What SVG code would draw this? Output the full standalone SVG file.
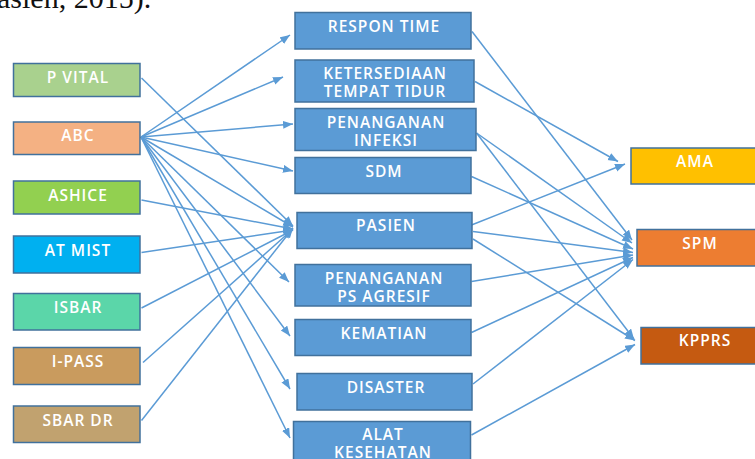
<svg xmlns="http://www.w3.org/2000/svg" width="755" height="459" viewBox="0 0 755 459">
<style>
.box{stroke:#41719c;stroke-width:1.5}
.mid{fill:#5b9bd5}
.lbl{font-family:"Open Sans","Liberation Sans",sans-serif;font-size:15.5px;font-weight:600;fill:#ffffff;text-anchor:middle;letter-spacing:1px}
.con{stroke:#5b9bd5;stroke-width:1.5;fill:none;marker-end:url(#arr)}
.cap{font-family:"Liberation Serif",serif;font-size:30px;fill:#111111}
</style>
<defs>
<marker id="arr" markerUnits="userSpaceOnUse" markerWidth="11" markerHeight="9" refX="10" refY="4" orient="auto">
<path d="M0,0 L10,4 L0,8 z" fill="#5b9bd5"/>
</marker>
</defs>
<rect width="755" height="459" fill="#ffffff"/>
<text class="cap" x="-3" y="8">asien, 2015).</text>

<g id="connectors">
<line class="con" x1="141.5" y1="78" x2="293" y2="226"/>
<line class="con" x1="141" y1="137" x2="290" y2="35"/>
<line class="con" x1="141" y1="137" x2="283" y2="77"/>
<line class="con" x1="141" y1="137" x2="293" y2="124"/>
<line class="con" x1="141" y1="137" x2="293" y2="171"/>
<line class="con" x1="141" y1="137" x2="293" y2="227"/>
<line class="con" x1="141" y1="137" x2="289" y2="282"/>
<line class="con" x1="141" y1="137" x2="290" y2="336"/>
<line class="con" x1="141" y1="137" x2="290" y2="389"/>
<line class="con" x1="141" y1="137" x2="290" y2="438"/>
<line class="con" x1="141.5" y1="200" x2="293" y2="229"/>
<line class="con" x1="141.5" y1="252.5" x2="293" y2="230"/>
<line class="con" x1="141.5" y1="308" x2="293" y2="230"/>
<line class="con" x1="143" y1="362.5" x2="293" y2="229"/>
<line class="con" x1="141.5" y1="420.5" x2="293" y2="228"/>
<line class="con" x1="472" y1="31.5" x2="632" y2="240"/>
<line class="con" x1="475" y1="81.5" x2="618" y2="161.5"/>
<line class="con" x1="476.5" y1="133" x2="632" y2="243"/>
<line class="con" x1="476.5" y1="133" x2="634" y2="339"/>
<line class="con" x1="471.5" y1="176.5" x2="633" y2="249"/>
<line class="con" x1="471.5" y1="225" x2="625" y2="164"/>
<line class="con" x1="473" y1="231.5" x2="633" y2="252.5"/>
<line class="con" x1="473" y1="239" x2="635" y2="340.5"/>
<line class="con" x1="471.5" y1="281.5" x2="633" y2="255"/>
<line class="con" x1="471.5" y1="332.5" x2="633" y2="257.5"/>
<line class="con" x1="473" y1="384" x2="633" y2="259.5"/>
<line class="con" x1="471.5" y1="435" x2="635" y2="344.5"/>
</g>

<g id="p-vital"><rect class="box" x="13.5" y="63.5" width="126.5" height="33" fill="#a9d18e"/><text class="lbl" x="78" y="82.5">P VITAL</text></g>
<g id="abc"><rect class="box" x="13.5" y="122" width="126.5" height="32.5" fill="#f4b183"/><text class="lbl" x="78" y="140.5">ABC</text></g>
<g id="ashice"><rect class="box" x="13.5" y="181" width="126.5" height="33" fill="#92d050"/><text class="lbl" x="78" y="200.5">ASHICE</text></g>
<g id="at-mist"><rect class="box" x="13.5" y="236" width="126.5" height="37" fill="#00b0f0"/><text class="lbl" x="78" y="255.5">AT MIST</text></g>
<g id="isbar"><rect class="box" x="13.5" y="293.5" width="126.5" height="36.5" fill="#5bd6a9"/><text class="lbl" x="78" y="312.5">ISBAR</text></g>
<g id="i-pass"><rect class="box" x="13.5" y="347.5" width="126.5" height="37" fill="#c99b5e"/><text class="lbl" x="78" y="366.5">I-PASS</text></g>
<g id="sbar-dr"><rect class="box" x="13.5" y="406" width="126.5" height="36.5" fill="#c1a26f"/><text class="lbl" x="78" y="426">SBAR DR</text></g>

<g id="respon-time"><rect class="box mid" x="295" y="12.5" width="176" height="36.5"/><text class="lbl" x="384" y="31.5">RESPON TIME</text></g>
<g id="ketersediaan"><rect class="box mid" x="295" y="60" width="179" height="42"/><text class="lbl" x="385" y="79">KETERSEDIAAN</text><text class="lbl" x="385" y="96.5">TEMPAT TIDUR</text></g>
<g id="penanganan-infeksi"><rect class="box mid" x="295" y="108.5" width="181" height="42"/><text class="lbl" x="386" y="127.5">PENANGANAN</text><text class="lbl" x="386" y="145.5">INFEKSI</text></g>
<g id="sdm"><rect class="box mid" x="295" y="157.5" width="176" height="36"/><text class="lbl" x="384" y="176.5">SDM</text></g>
<g id="pasien"><rect class="box mid" x="297" y="212.5" width="175" height="36"/><text class="lbl" x="386" y="231">PASIEN</text></g>
<g id="penanganan-ps-agresif"><rect class="box mid" x="295" y="264.5" width="176" height="41.5"/><text class="lbl" x="384" y="284">PENANGANAN</text><text class="lbl" x="384" y="301.5">PS AGRESIF</text></g>
<g id="kematian"><rect class="box mid" x="295" y="319.5" width="176" height="36"/><text class="lbl" x="384" y="339">KEMATIAN</text></g>
<g id="disaster"><rect class="box mid" x="297" y="373.5" width="175" height="36.5"/><text class="lbl" x="386" y="392.5">DISASTER</text></g>
<g id="alat-kesehatan"><rect class="box mid" x="293.5" y="421.5" width="177" height="45"/><text class="lbl" x="383" y="440">ALAT</text><text class="lbl" x="383" y="458">KESEHATAN</text></g>

<g id="ama"><rect class="box" x="631" y="148" width="130" height="36" fill="#ffc000"/><text class="lbl" x="695" y="166.5">AMA</text></g>
<g id="spm"><rect class="box" x="637" y="229.5" width="124" height="36.5" fill="#ed7d31"/><text class="lbl" x="700" y="249">SPM</text></g>
<g id="kpprs"><rect class="box" x="641" y="327.5" width="120" height="36.5" fill="#c55a11"/><text class="lbl" x="705" y="346">KPPRS</text></g>
</svg>
